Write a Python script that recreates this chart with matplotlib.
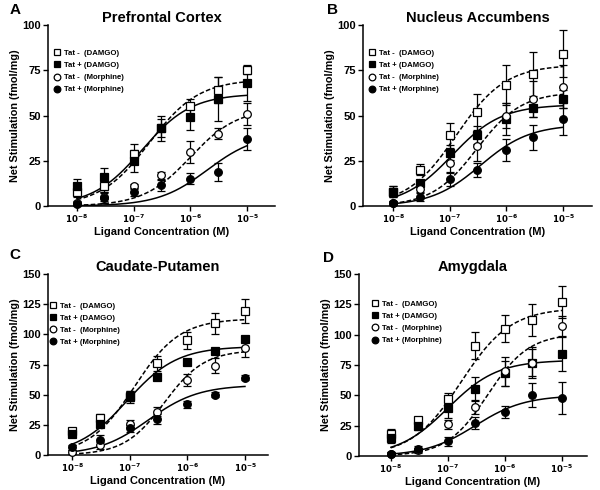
import matplotlib
matplotlib.use("Agg")
import matplotlib.pyplot as plt
import numpy as np

plt.rcParams["font.family"] = ["Liberation Sans", "DejaVu Sans"]
plt.rcParams["font.weight"] = "bold"
plt.rcParams["mathtext.default"] = "bf"

# ── data ────────────────────────────────────────────────────────────
conc = [1e-8, 3e-8, 1e-7, 3e-7, 1e-6, 3e-6, 1e-5]
series_labels = ["Tat -  (DAMGO)", "Tat + (DAMGO)", "Tat -  (Morphine)", "Tat + (Morphine)"]

# Prefrontal cortex
pfc_mean = [
    [8, 11, 29, 43, 55, 64, 75],
    [11, 16, 25, 43, 49, 59, 68],
    [1.5, 5, 11, 17, 30, 40, 51],
    [1, 4.5, 7.5, 11.5, 15, 19, 37],
]
pfc_err = [
    [3, 3, 5, 5, 4, 7, 2],
    [4, 5, 6, 7, 7, 12, 10],
    [1, 2, 1, 2, 6, 3, 6],
    [1, 3, 2, 3, 3, 5, 6],
]
# Nucleus accumbens
nac_mean = [
    [8, 20, 39, 52, 67, 73, 84],
    [8, 12.5, 29.5, 39, 48, 54, 59],
    [1.5, 9.5, 23.5, 33, 50, 59, 66],
    [1.5, 5, 15, 20, 31, 38, 48],
]
nac_err = [
    [3, 3, 7, 10, 11, 12, 13],
    [3, 2, 4, 5, 9, 5, 5],
    [1, 2, 5, 8, 7, 10, 12],
    [1, 2, 4, 4, 6, 7, 9],
]
# Caudate-putamen
cp_mean = [
    [20, 31, 48, 76, 95, 109, 119],
    [17, 25.5, 49, 65, 77, 86, 96],
    [2.5, 8, 26, 36, 62, 74, 89],
    [6.5, 12.5, 22, 30, 42, 50, 64],
]
cp_err = [
    [2, 3, 5, 6, 7, 9, 10],
    [2, 2, 4, 3, 2, 2, 2],
    [2, 3, 3, 4, 5, 6, 8],
    [2, 4, 3, 4, 3, 2, 2],
]
# Amygdala
amy_mean = [
    [18, 29.5, 47, 91, 105, 112, 127],
    [15, 24.5, 39.5, 55, 68, 77, 84],
    [2, 5, 26, 40.5, 70, 77, 107],
    [2, 5.5, 12, 27, 36, 50, 48],
]
amy_err = [
    [4, 3, 5, 11, 11, 13, 13],
    [4, 3, 8, 10, 10, 11, 14],
    [1, 2, 4, 6, 12, 13, 8],
    [1, 3, 4, 5, 5, 10, 13],
]

# fitted curve parameters (top, EC50, hill slope) per series
pfc_fit = [(70, 1.9e-7, 1.0), (62, 1.4e-7, 1.0), (54, 1.0e-6, 1.05), (40, 2.0e-6, 1.0)]
nac_fit = [(78, 1.3e-7, 1.0), (56, 1.1e-7, 1.0), (63, 3.0e-7, 1.1), (45, 3.5e-7, 1.0)]
cp_fit = [(113, 1.2e-7, 1.1), (90, 0.9e-7, 1.0), (87, 4.0e-7, 1.25), (58, 2.1e-7, 1.0)]
amy_fit = [(122, 1.7e-7, 1.0), (79, 1.0e-7, 1.0), (101, 5.0e-7, 1.2), (50, 3.0e-7, 1.0)]

panels = [
    ("A", "Prefrontal Cortex", pfc_mean, pfc_err, pfc_fit, 100, (-8.51, -4.51)),
    ("B", "Nucleus Accumbens", nac_mean, nac_err, nac_fit, 100, (-8.53, -4.49)),
    ("C", "Caudate-Putamen", cp_mean, cp_err, cp_fit, 150, (-8.42, -4.60)),
    ("D", "Amygdala", amy_mean, amy_err, amy_fit, 150, (-8.56, -4.56)),
]

# axes rectangles in pixels (left, top, right, bottom) on a 600x490 canvas
rects = [(48, 25, 275, 206), (363, 25, 592, 206), (48, 274, 268, 455), (359, 274, 587, 456)]
letter_pos = [(15, 10), (332, 10), (15, 255), (328, 258)]
legend_anchor = [(0.0, 0.89), (0.0, 0.89), (-0.02, 0.87), (0.03, 0.88)]

styles = [
    dict(marker="s", mfc="white", ls="--"),
    dict(marker="s", mfc="black", ls="-"),
    dict(marker="o", mfc="white", ls="--"),
    dict(marker="o", mfc="black", ls="-"),
]

W, H = 600, 490
fig = plt.figure(figsize=(6, 4.9), dpi=100)

xfit = np.logspace(-8, -5, 200)

for (letter, title, means, errs, fits, ymax, xl), (l, t, r, b), lp, la in zip(
    panels, rects, letter_pos, legend_anchor
):
    ax = fig.add_axes([l / W, (H - b) / H, (r - l) / W, (b - t) / H])
    handles = []
    for k in range(4):
        st = styles[k]
        top, ec50, h = fits[k]
        ax.plot(xfit, top * xfit**h / (xfit**h + ec50**h), color="black",
                ls=st["ls"], lw=1.1, dashes=(3, 1.5) if st["ls"] == "--" else (None, None),
                zorder=2)
        eb = ax.errorbar(conc, means[k], yerr=errs[k], fmt=st["marker"], ms=5.5,
                         mfc=st["mfc"], mec="black", mew=0.9, ecolor="black",
                         elinewidth=0.9, capsize=3, capthick=0.9, zorder=3, clip_on=False)
        for art in eb.lines[1] + eb.lines[2]:
            art.set_clip_on(False)
        h_, = ax.plot([], [], st["marker"], ms=4.8, mfc=st["mfc"], mec="black", mew=0.9, ls="none")
        handles.append(h_)

    ax.set_xscale("log")
    ax.set_xlim(10 ** xl[0], 10 ** xl[1])
    ax.set_ylim(0, ymax)
    ax.set_xticks([1e-8, 1e-7, 1e-6, 1e-5])
    ax.set_xticklabels([r"$10^{-8}$", r"$10^{-7}$", r"$10^{-6}$", r"$10^{-5}$"], fontsize=6.2)
    ax.xaxis.set_minor_locator(matplotlib.ticker.NullLocator())
    ax.set_yticks(np.arange(0, ymax + 1, 25))
    ax.tick_params(axis="y", labelsize=8, width=1, length=3.5, pad=1.5)
    ax.tick_params(axis="x", width=1, length=3.5, pad=1.5)
    for lab in ax.get_yticklabels():
        lab.set_fontweight("bold")
    for s in ("top", "right"):
        ax.spines[s].set_visible(False)
    for s in ("left", "bottom"):
        ax.spines[s].set_linewidth(1.1)

    ax.set_title(title, fontsize=10.5, fontweight="bold", pad=2)
    ax.set_xlabel("Ligand Concentration (M)", fontsize=8, fontweight="bold", labelpad=1.5)
    ax.set_ylabel("Net Stimulation (fmol/mg)", fontsize=7.8, fontweight="bold", labelpad=2)

    ax.legend(handles, series_labels, loc="upper left", bbox_to_anchor=la, frameon=False,
              prop=dict(size=5.6, weight="bold"), handletextpad=0.3, labelspacing=0.6,
              handlelength=1.2, borderaxespad=0.2)

    fig.text(lp[0] / W, 1 - lp[1] / H, letter, fontsize=11, fontweight="bold",
             ha="center", va="center")

fig.savefig("out.png", dpi=100)
